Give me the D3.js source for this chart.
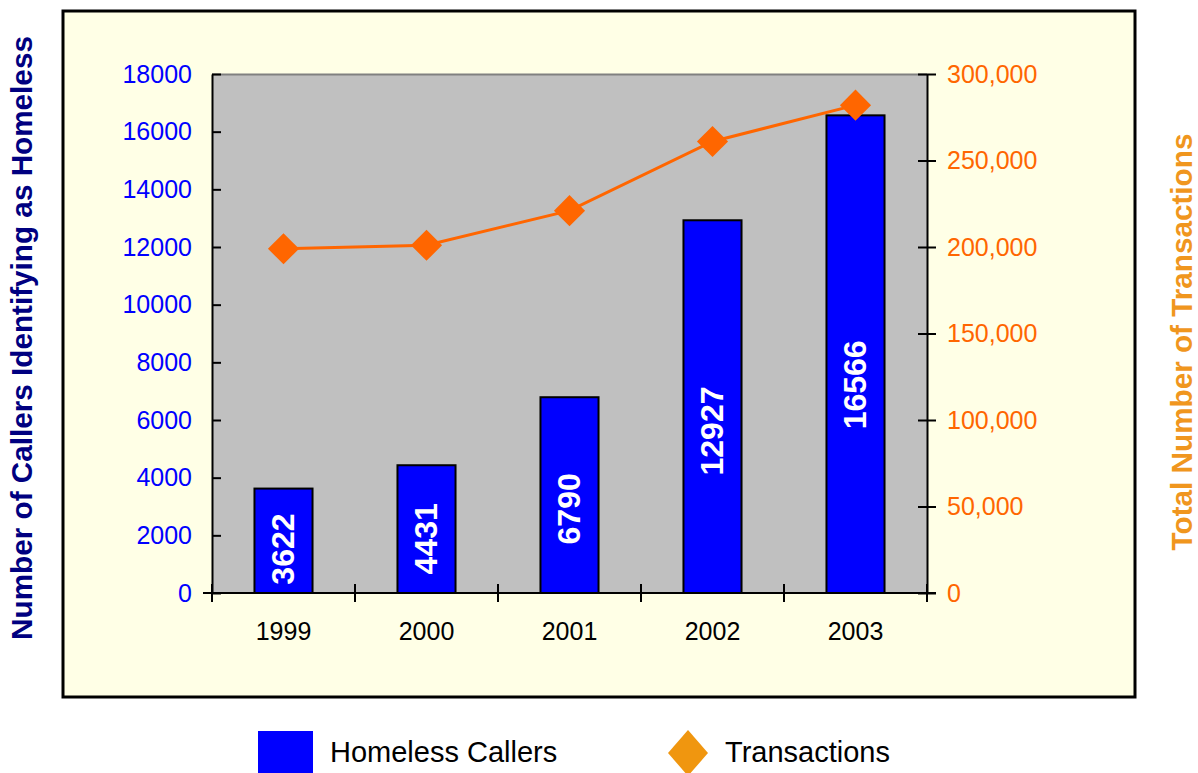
<!DOCTYPE html>
<html>
<head>
<meta charset="utf-8">
<script src="https://cdn.jsdelivr.net/npm/d3@7/dist/d3.min.js"></script>
<style>
  html, body { margin: 0; padding: 0; background: #ffffff; }
  svg { display: block; font-family: "Liberation Sans", Arial, sans-serif; }
</style>
</head>
<body>
<svg id="chart" width="1198" height="773"></svg>
<script>
// Yearly homeless callers (bars, left axis) and total transactions (line, right axis)
const years = ["1999", "2000", "2001", "2002", "2003"];
const homelessCallers = [3622, 4431, 6790, 12927, 16566];
const transactions = [199000, 201000, 221000, 261000, 282000];
const leftTicks = [0, 2000, 4000, 6000, 8000, 10000, 12000, 14000, 16000, 18000];
const rightTicks = [0, 50000, 100000, 150000, 200000, 250000, 300000];
const legendLabels = ["Homeless Callers", "Transactions"];

const svg = d3.select("#chart");

const plot = { left: 212, right: 927, top: 74, bottom: 593 };

// Outer chart frame
svg.append("rect")
  .attr("x", 63).attr("y", 11)
  .attr("width", 1072).attr("height", 686)
  .attr("fill", "#FFFFE6")
  .attr("stroke", "#000").attr("stroke-width", 3);

// Plot area background
svg.append("rect")
  .attr("x", plot.left).attr("y", plot.top)
  .attr("width", plot.right - plot.left).attr("height", plot.bottom - plot.top)
  .attr("fill", "#C0C0C0");
svg.append("line")
  .attr("x1", plot.left).attr("x2", plot.right)
  .attr("y1", plot.top + 0.5).attr("y2", plot.top + 0.5)
  .attr("stroke", "#808080").attr("stroke-width", 2);

const x = d3.scaleBand(years, [plot.left, plot.right]).paddingInner(0.594).paddingOuter(0.297);
const xCat = d3.scaleBand(years, [plot.left, plot.right]).padding(0);
const yL = d3.scaleLinear([0, 18000], [plot.bottom, plot.top]);
const yR = d3.scaleLinear([0, 300000], [plot.bottom, plot.top]);

// Bars
svg.append("g").selectAll("rect")
  .data(years)
  .join("rect")
  .attr("x", (d) => x(d))
  .attr("y", (d, i) => yL(homelessCallers[i]))
  .attr("width", x.bandwidth())
  .attr("height", (d, i) => yL(0) - yL(homelessCallers[i]))
  .attr("fill", "#0000FF")
  .attr("stroke", "#000").attr("stroke-width", 2);

// Value labels inside bars, in the lower part of each bar
svg.append("g").selectAll("text")
  .data(years)
  .join("text")
  .attr("transform", (d, i) => `translate(${x(d) + x.bandwidth() / 2 + 10},${yL(homelessCallers[i] * 0.44) + 2}) rotate(-90)`)
  .attr("text-anchor", "middle")
  .attr("fill", "#fff")
  .attr("font-weight", "bold")
  .attr("font-size", 32)
  .text((d, i) => homelessCallers[i]);

// Left axis
const axL = svg.append("g")
  .attr("transform", `translate(${plot.left},0)`)
  .call(d3.axisLeft(yL).tickValues(leftTicks).tickFormat(d3.format("d")).tickSizeInner(9).tickSizeOuter(0).tickPadding(11));
axL.select(".domain").attr("stroke", "#000").attr("stroke-width", 2);
axL.selectAll(".tick line").attr("x2", 9).attr("stroke", "#000").attr("stroke-width", 2);
axL.selectAll(".tick text").attr("fill", "#0000FF").attr("font-size", 25)
  .attr("font-family", "Liberation Sans, Arial, sans-serif");

// Right axis
const axR = svg.append("g")
  .attr("transform", `translate(${plot.right},0)`)
  .call(d3.axisRight(yR).tickValues(rightTicks).tickFormat(d3.format(",")).tickSizeInner(9).tickSizeOuter(0).tickPadding(11));
axR.select(".domain").attr("stroke", "#000").attr("stroke-width", 2);
axR.selectAll(".tick line").attr("x2", 9).attr("x1", -9).attr("stroke", "#000").attr("stroke-width", 2);
axR.selectAll(".tick text").attr("fill", "#FF6600").attr("font-size", 25)
  .attr("font-family", "Liberation Sans, Arial, sans-serif");

// Bottom axis: category labels centred, ticks on category boundaries
const axB = svg.append("g")
  .attr("transform", `translate(0,${plot.bottom})`)
  .call(d3.axisBottom(xCat).tickSize(0).tickPadding(29));
axB.select(".domain").remove();
axB.selectAll(".tick text").attr("fill", "#000").attr("font-size", 25)
  .attr("font-family", "Liberation Sans, Arial, sans-serif");
svg.append("line")
  .attr("x1", plot.left - 9).attr("x2", plot.right + 9)
  .attr("y1", plot.bottom).attr("y2", plot.bottom)
  .attr("stroke", "#000").attr("stroke-width", 2);
const boundaries = years.map((d) => xCat(d)).concat([xCat(years[years.length - 1]) + xCat.bandwidth()]);
svg.append("g").selectAll("line")
  .data(boundaries)
  .join("line")
  .attr("x1", (d) => d).attr("x2", (d) => d)
  .attr("y1", plot.bottom - 9).attr("y2", plot.bottom + 9)
  .attr("stroke", "#000").attr("stroke-width", 2);

// Transactions line with diamond markers
const line = d3.line()
  .x((d, i) => x(years[i]) + x.bandwidth() / 2)
  .y((d) => yR(d));
svg.append("path")
  .datum(transactions)
  .attr("d", line)
  .attr("fill", "none")
  .attr("stroke", "#FF6600")
  .attr("stroke-width", 3);
const diamond = d3.symbol(d3.symbolSquare, 484);
svg.append("g").selectAll("path")
  .data(transactions)
  .join("path")
  .attr("d", diamond)
  .attr("transform", (d, i) => `translate(${x(years[i]) + x.bandwidth() / 2},${yR(d)}) rotate(45)`)
  .attr("fill", "#FF6600");

// Axis titles
svg.append("text")
  .attr("transform", `translate(32,${338}) rotate(-90)`)
  .attr("text-anchor", "middle")
  .attr("fill", "#000080")
  .attr("font-weight", "bold")
  .attr("font-size", 29.7)
  .text("Number of Callers Identifying as Homeless");
svg.append("text")
  .attr("transform", `translate(1192,${342}) rotate(-90)`)
  .attr("text-anchor", "middle")
  .attr("fill", "#F0961E")
  .attr("font-weight", "bold")
  .attr("font-size", 29.7)
  .text("Total Number of Transactions");

// Legend
const legend = svg.append("g");
legend.append("rect")
  .attr("x", 258).attr("y", 731).attr("width", 55).attr("height", 42)
  .attr("fill", "#0000FF");
legend.append("text")
  .attr("x", 330).attr("y", 762)
  .attr("font-size", 29).attr("fill", "#000")
  .text(legendLabels[0]);
legend.append("path")
  .attr("d", d3.symbol(d3.symbolSquare, 800))
  .attr("transform", "translate(688,753) scale(1,1.15) rotate(45)")
  .attr("fill", "#F0960F");
legend.append("text")
  .attr("x", 725).attr("y", 762)
  .attr("font-size", 29).attr("fill", "#000")
  .text(legendLabels[1]);
</script>
</body>
</html>
